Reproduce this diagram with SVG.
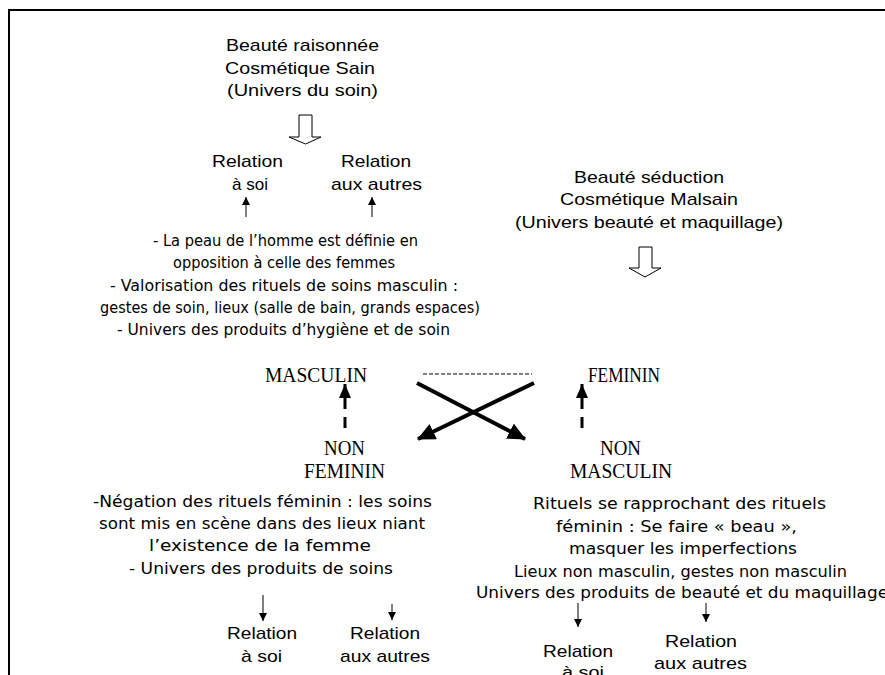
<svg xmlns="http://www.w3.org/2000/svg" width="885" height="675" viewBox="0 0 885 675">
<style>
.a{font-family:"Liberation Sans",Arial,sans-serif;font-size:17px;fill:#000}
.c{font-family:"DejaVu Sans","Open Sans",sans-serif;font-size:15.5px;fill:#000}
.t{font-family:"Liberation Serif","Times New Roman",serif;font-size:20px;fill:#000}
.thin{stroke:#000;stroke-width:1;fill:none}
.dash{stroke:#000;stroke-width:3;fill:none;stroke-dasharray:11,8}
.thick{stroke:#000;stroke-width:4;fill:none}
.hollow{fill:#fff;stroke:#000;stroke-width:1}
</style>
<defs>
<marker id="ah" markerUnits="userSpaceOnUse" markerWidth="8" markerHeight="8" refX="8" refY="4" orient="auto"><path d="M0,0L8,4L0,8z" fill="#000"/></marker>
<marker id="ahd" markerUnits="userSpaceOnUse" markerWidth="14" markerHeight="12" refX="14" refY="6" orient="auto"><path d="M0,0L14,6L0,12z" fill="#000"/></marker>
<marker id="ahx" markerUnits="userSpaceOnUse" markerWidth="18" markerHeight="17" refX="17" refY="8.5" orient="auto"><path d="M0,0L18,8.5L0,17z" fill="#000"/></marker>
</defs>
<rect width="885" height="675" fill="#fff"/>
<path d="M9,675V10H885" fill="none" stroke="#000" stroke-width="2"/>

<g id="beaute-raisonnee">
<text class="a" x="226" y="51" textLength="153" lengthAdjust="spacingAndGlyphs">Beauté raisonnée</text>
<text class="a" x="225" y="74" textLength="150" lengthAdjust="spacingAndGlyphs">Cosmétique Sain</text>
<text class="a" x="227" y="96" textLength="151" lengthAdjust="spacingAndGlyphs">(Univers du soin)</text>
</g>
<g id="relation-soi-top">
<text class="a" x="212" y="167" textLength="71" lengthAdjust="spacingAndGlyphs">Relation</text>
<text class="a" x="232" y="190" textLength="36" lengthAdjust="spacingAndGlyphs">à soi</text>
</g>
<g id="relation-autres-top">
<text class="a" x="341" y="167" textLength="70" lengthAdjust="spacingAndGlyphs">Relation</text>
<text class="a" x="331" y="190" textLength="91" lengthAdjust="spacingAndGlyphs">aux autres</text>
</g>
<g id="masculin-desc">
<text class="c" x="153" y="246" textLength="265" lengthAdjust="spacingAndGlyphs">- La peau de l’homme est définie en</text>
<text class="c" x="173" y="268" textLength="222" lengthAdjust="spacingAndGlyphs">opposition à celle des femmes</text>
<text class="c" x="110" y="291" textLength="348" lengthAdjust="spacingAndGlyphs">- Valorisation des rituels de soins masculin :</text>
<text class="c" x="100" y="313" textLength="380" lengthAdjust="spacingAndGlyphs">gestes de soin, lieux (salle de bain, grands espaces)</text>
<text class="c" x="117" y="335" textLength="333" lengthAdjust="spacingAndGlyphs">- Univers des produits d’hygiène et de soin</text>
</g>
<g id="beaute-seduction">
<text class="a" x="574" y="183" textLength="150" lengthAdjust="spacingAndGlyphs">Beauté séduction</text>
<text class="a" x="560" y="205" textLength="178" lengthAdjust="spacingAndGlyphs">Cosmétique Malsain</text>
<text class="a" x="515" y="228" textLength="268" lengthAdjust="spacingAndGlyphs">(Univers beauté et maquillage)</text>
</g>
<g id="masculin"><text class="t" x="265" y="382" textLength="102" lengthAdjust="spacingAndGlyphs">MASCULIN</text></g>
<g id="feminin"><text class="t" x="588" y="382" textLength="72" lengthAdjust="spacingAndGlyphs">FEMININ</text></g>
<g id="non-feminin">
<text class="t" x="324" y="455" textLength="41" lengthAdjust="spacingAndGlyphs">NON</text>
<text class="t" x="304" y="478" textLength="81" lengthAdjust="spacingAndGlyphs">FEMININ</text>
</g>
<g id="non-masculin">
<text class="t" x="600" y="455" textLength="41" lengthAdjust="spacingAndGlyphs">NON</text>
<text class="t" x="570" y="478" textLength="102" lengthAdjust="spacingAndGlyphs">MASCULIN</text>
</g>
<g id="non-feminin-desc">
<text class="c" x="93" y="507" textLength="339" lengthAdjust="spacingAndGlyphs">-Négation des rituels féminin : les soins</text>
<text class="c" x="99" y="529" textLength="326" lengthAdjust="spacingAndGlyphs">sont mis en scène dans des lieux niant</text>
<text class="c" x="149" y="551" textLength="222" lengthAdjust="spacingAndGlyphs">l’existence de la femme</text>
<text class="c" x="129" y="574" textLength="264" lengthAdjust="spacingAndGlyphs">- Univers des produits de soins</text>
</g>
<g id="non-masculin-desc">
<text class="c" x="533" y="509" textLength="293" lengthAdjust="spacingAndGlyphs">Rituels se rapprochant des rituels</text>
<text class="c" x="556" y="532" textLength="241" lengthAdjust="spacingAndGlyphs">féminin : Se faire « beau »,</text>
<text class="c" x="569" y="554" textLength="228" lengthAdjust="spacingAndGlyphs">masquer les imperfections</text>
<text class="c" x="514" y="577" textLength="333" lengthAdjust="spacingAndGlyphs">Lieux non masculin, gestes non masculin</text>
<text class="c" x="476" y="598" textLength="412" lengthAdjust="spacingAndGlyphs">Univers des produits de beauté et du maquillage</text>
</g>
<g id="relation-soi-left">
<text class="a" x="227" y="639" textLength="70" lengthAdjust="spacingAndGlyphs">Relation</text>
<text class="a" x="241" y="662" textLength="41" lengthAdjust="spacingAndGlyphs">à soi</text>
</g>
<g id="relation-autres-left">
<text class="a" x="350" y="639" textLength="70" lengthAdjust="spacingAndGlyphs">Relation</text>
<text class="a" x="340" y="662" textLength="90" lengthAdjust="spacingAndGlyphs">aux autres</text>
</g>
<g id="relation-soi-right">
<text class="a" x="543" y="657" textLength="70" lengthAdjust="spacingAndGlyphs">Relation</text>
<text class="a" x="562" y="678" textLength="42" lengthAdjust="spacingAndGlyphs">à soi</text>
</g>
<g id="relation-autres-right">
<text class="a" x="665" y="647" textLength="72" lengthAdjust="spacingAndGlyphs">Relation</text>
<text class="a" x="654" y="669" textLength="93" lengthAdjust="spacingAndGlyphs">aux autres</text>
</g>

<g id="connectors">
<path class="hollow" d="M299,115H312V137H321L305.5,144L289,137H299Z"/>
<path class="hollow" d="M639,247H652V268H661L645,277L629,268H639Z"/>
<path class="thin" d="M246,217V197" marker-end="url(#ah)"/>
<path class="thin" d="M372,217V197" marker-end="url(#ah)"/>
<path class="thin" d="M423,374H532" stroke-dasharray="4,2"/>
<path class="dash" d="M345,428V384" marker-end="url(#ahd)"/>
<path class="dash" d="M582,428V384" marker-end="url(#ahd)"/>
<path class="thick" d="M417,383L525,439" marker-end="url(#ahx)"/>
<path class="thick" d="M534,383L418,439" marker-end="url(#ahx)"/>
<path class="thin" d="M263,595V621" marker-end="url(#ah)"/>
<path class="thin" d="M392,604V620" marker-end="url(#ah)"/>
<path class="thin" d="M578,603V627" marker-end="url(#ah)"/>
<path class="thin" d="M706,603V622" marker-end="url(#ah)"/>
</g>
</svg>
